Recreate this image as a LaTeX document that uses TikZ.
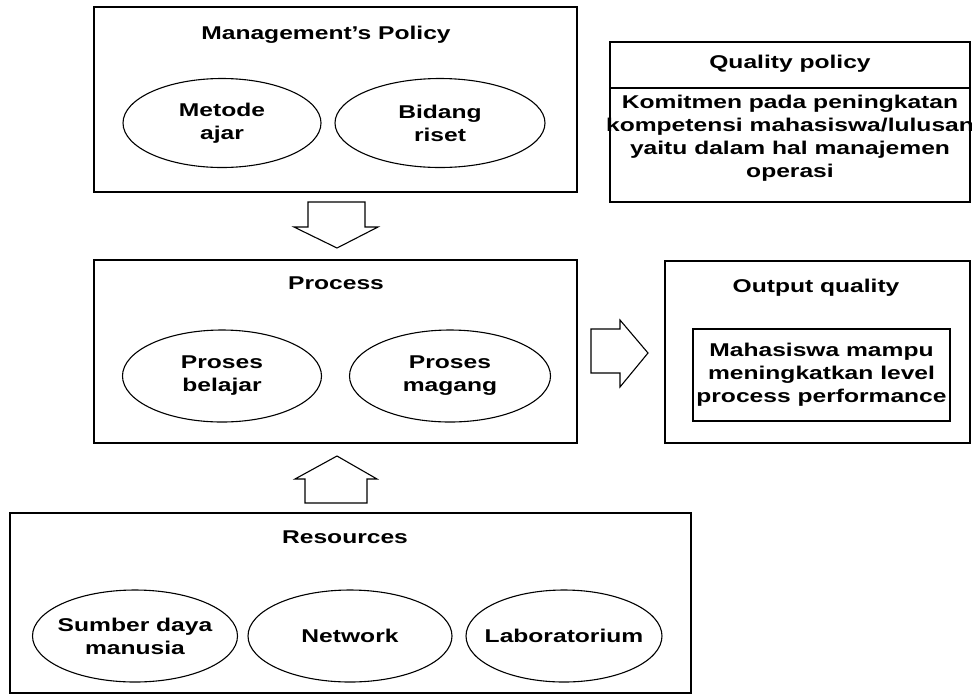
\documentclass[tikz,border=0pt]{standalone}
\usepackage{fontspec}
\setmainfont{Liberation Sans}[FakeStretch=1.33]
\usetikzlibrary{shapes.geometric}

\begin{document}
\begin{tikzpicture}[x=1pt, y=-1pt, font=\fontsize{18.5}{23}\selectfont\bfseries]

\tikzset{box/.style = {draw, line width=1.1pt, inner sep=0pt}}
\tikzset{oval/.style = {shape=ellipse, draw, line width=1.1pt, inner xsep=-10pt, inner ysep=0pt, align=center}}
\tikzset{label/.style = {align=center, inner sep=0pt}}
\tikzset{block/.style = {draw, line width=1.1pt, line join=miter}}

\useasboundingbox (0,0) rectangle (972,697);

%boxes
\node[box, minimum width=483, minimum height=185] (mgmt) at (335.5,99.5) {};
\node[box, minimum width=360, minimum height=160] (quality) at (790,122) {};
\node[box, minimum width=483, minimum height=183] (process) at (335.5,351.5) {};
\node[box, minimum width=305, minimum height=182] (output) at (817.5,352) {};
\node[box, minimum width=257, minimum height=92] (result) at (821.5,375) {};
\node[box, minimum width=681, minimum height=180] (resources) at (350.5,603) {};
\draw[line width=1.1pt] (quality.west |- 0,88) -- (quality.east |- 0,88);

%titles
\node[label] (mgmttitle) at (326,35) {Management's Policy};
\node[label] (qualitytitle) at (790,64) {Quality policy};
\node[label] (qualitytext) at (790,138) {Komitmen pada peningkatan\\kompetensi mahasiswa/lulusan\\yaitu dalam hal manajemen\\operasi};
\node[label] (processtitle) at (336,283) {Process};
\node[label] (outputtitle) at (816,288) {Output quality};
\node[label] (resulttext) at (821.5,375) {Mahasiswa mampu\\meningkatkan level\\process performance};
\node[label] (resourcestitle) at (345,537) {Resources};

%ellipses
\node[oval, minimum width=198, minimum height=89] (metode) at (222,123) {Metode\\ajar};
\node[oval, minimum width=210, minimum height=89] (bidang) at (440,123) {Bidang\\riset};
\node[oval, minimum width=199, minimum height=92] (belajar) at (222,376) {Proses\\belajar};
\node[oval, minimum width=201, minimum height=92] (magang) at (450,376) {Proses\\magang};
\node[oval, minimum width=205, minimum height=92] (sumber) at (135,636) {Sumber daya\\manusia};
\node[oval, minimum width=204, minimum height=92] (network) at (350,636) {Network};
\node[oval, minimum width=195, minimum height=92] (lab) at (564,636) {Laboratorium};

%block arrows
\draw[block] (308,202) -- (365,202) -- (365,227) -- (378,227) -- (337,248)
  -- (294,227) -- (308,227) -- cycle;
\draw[block] (591,329) -- (620,329) -- (620,320) -- (648,353) -- (620,387)
  -- (620,373) -- (591,373) -- cycle;
\draw[block] (305,503) -- (367,503) -- (367,479) -- (377,479) -- (337,456)
  -- (295,479) -- (305,479) -- cycle;

\end{tikzpicture}
\end{document}
